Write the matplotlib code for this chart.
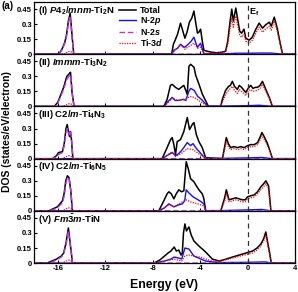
import matplotlib
matplotlib.use("Agg")
import matplotlib.pyplot as plt
import numpy as np

plt.rcParams['font.family'] = ['Liberation Sans', 'DejaVu Sans']
plt.rcParams['font.weight'] = 'bold'
plt.rcParams['mathtext.fontset'] = 'custom'
plt.rcParams['mathtext.rm'] = 'Liberation Sans:bold'
plt.rcParams['mathtext.bf'] = 'Liberation Sans:bold'
plt.rcParams['mathtext.it'] = 'Liberation Sans:italic:bold'

# panel titles
titles = ['(I) $P4_2/mnm$-Ti$_2$N',
          '(II) $Immm$-Ti$_3$N$_2$',
          '(III) C2/$m$-Ti$_4$N$_3$',
          '(IV) C2/$m$-Ti$_6$N$_5$',
          r'(V) $Fm\bar{3}m$-TiN']

xticks = [-16, -12, -8, -4, 0, 4]
yticks = [0, 0.15, 0.3, 0.45]
ytick_labels = ['0', '0.15', '0.3', '0.45']

# ---- (I) Ti2N ----
tot_e1 = [-18, -15.9, -15.6, -15.4, -15.25, -15.1, -14.95, -14.8, -14.65,
          -6.4, -6.25, -6.1, -5.9, -5.65, -5.5, -5.28, -5.1, -4.9, -4.7, -4.52,
          -4.35, -4.22, -4.1, -3.96, -3.8, -3.68, -3.4, -3.0, -2.6, -2.2, -1.85,
          -1.67, -1.47, -1.33, -1.2, -0.99, -0.85, -0.66, -0.5, -0.3, -0.15,
          0.13, 0.4, 0.7, 0.98, 1.26, 1.5, 1.83, 2.0, 2.25, 2.5, 2.75, 2.95, 4]
tot_v1 = [0, 0, 0.06, 0.12, 0.2, 0.33, 0.41, 0.2, 0,
          0, 0.1, 0.14, 0.2, 0.31, 0.25, 0.16, 0.22, 0.32, 0.36, 0.43,
          0.3, 0.21, 0.22, 0.25, 0.12, 0.04, 0.03, 0.02, 0.015, 0.02, 0.03,
          0.13, 0.33, 0.45, 0.33, 0.46, 0.36, 0.23, 0.21, 0.25, 0.16,
          0.14, 0.17, 0.25, 0.31, 0.26, 0.29, 0.32, 0.28, 0.37, 0.26, 0.11, 0, 0]
n2p_e1 = [-18, -6.4, -6.2, -5.9, -5.65, -5.45, -5.28, -5.0, -4.75, -4.52,
          -4.35, -4.22, -3.96, -3.8, -3.68, -2.0, -1.0, 0.0, 1.0, 2.0, 2.9, 4]
n2p_v1 = [0, 0, 0.04, 0.06, 0.10, 0.08, 0.07, 0.10, 0.13, 0.17,
          0.11, 0.07, 0.11, 0.05, 0.005, 0.005, 0.01, 0.01, 0.012, 0.012, 0, 0]
n2s_e1 = [-18, -15.9, -15.6, -15.4, -15.25, -15.1, -14.95, -14.8, -14.65, 4]
n2s_v1 = [0, 0, 0.05, 0.11, 0.18, 0.31, 0.38, 0.19, 0, 0]
d_e1 = [-18, -15.5, -15.2, -15.0, -14.8, -14.65,
        -6.4, -6.1, -5.65, -5.28, -4.9, -4.52, -4.22, -3.96, -3.68,
        -3.0, -2.2, -1.85, -1.67, -1.47, -1.33, -1.2, -0.99, -0.85, -0.66,
        -0.5, -0.3, -0.15, 0.13, 0.4, 0.7, 0.98, 1.26, 1.5, 1.83, 2.0, 2.25,
        2.5, 2.75, 2.95, 4]
d_v1 = [0, 0, 0.02, 0.03, 0.02, 0,
        0, 0.04, 0.09, 0.05, 0.08, 0.11, 0.06, 0.07, 0.01,
        0.01, 0.015, 0.025, 0.1, 0.26, 0.36, 0.27, 0.38, 0.3, 0.19,
        0.17, 0.2, 0.13, 0.11, 0.14, 0.21, 0.27, 0.22, 0.25, 0.28, 0.24, 0.33,
        0.23, 0.1, 0, 0]

# ---- (II) Ti3N2 ----
tot_e2 = [-18, -16.3, -16.0, -15.5, -15.23, -15.0, -14.92, -14.8, -14.62,
          -7.06, -6.78, -6.5, -6.35, -6.07, -5.8, -5.6, -5.37, -5.08, -4.94,
          -4.8, -4.51, -4.37, -4.09, -3.8, -3.46, -3.3,
          -2.27, -2.1, -1.85, -1.6, -1.45, -1.28, -1.1, -0.86, -0.7, -0.5,
          -0.3, -0.15, 0.05, 0.27, 0.45, 0.65, 0.83, 1.05, 1.26, 1.5, 1.83, 2.1, 4]
tot_v2 = [0, 0, 0.04, 0.19, 0.3, 0.33, 0.34, 0.15, 0,
          0, 0.07, 0.21, 0.22, 0.19, 0.17, 0.19, 0.21, 0.12, 0.40,
          0.42, 0.39, 0.31, 0.22, 0.12, 0.04, 0,
          0, 0.08, 0.16, 0.2, 0.21, 0.25, 0.2, 0.17, 0.21, 0.19,
          0.16, 0.14, 0.18, 0.21, 0.18, 0.19, 0.19, 0.21, 0.25, 0.18, 0.09, 0, 0]
n2p_e2 = [-18, -7.06, -6.7, -6.35, -6.1, -5.8, -5.45, -5.2, -4.95, -4.8,
          -4.5, -4.2, -3.88, -3.5, -3.3, -2.2, 0.0, 1.0, 2.1, 4]
n2p_v2 = [0, 0, 0.05, 0.09, 0.06, 0.06, 0.07, 0.06, 0.15, 0.18,
          0.16, 0.1, 0.07, 0.02, 0.003, 0.003, 0.008, 0.012, 0, 0]
n2s_e2 = [-18, -16.3, -16.0, -15.5, -15.23, -15.05, -14.95, -14.85, -14.75, -14.62, 4]
n2s_v2 = [0, 0, 0.03, 0.17, 0.27, 0.3, 0.32, 0.25, 0.1, 0, 0]
d_e2 = [-18, -15.5, -15.2, -15.0, -14.8, -14.65,
        -7.0, -6.35, -5.9, -5.4, -4.8, -4.5, -4.0, -3.3,
        -2.27, -2.1, -1.85, -1.6, -1.28, -1.1, -0.86, -0.7, -0.5, -0.15,
        0.05, 0.27, 0.45, 0.83, 1.05, 1.26, 1.5, 1.83, 2.1, 4]
d_v2 = [0, 0, 0.02, 0.03, 0.02, 0,
        0, 0.08, 0.06, 0.07, 0.1, 0.09, 0.05, 0,
        0, 0.05, 0.12, 0.16, 0.2, 0.16, 0.13, 0.17, 0.15, 0.11,
        0.15, 0.17, 0.15, 0.16, 0.18, 0.22, 0.16, 0.08, 0, 0]

# ---- (III) Ti4N3 ----
tot_e3 = [-18, -16.45, -16.1, -15.94, -15.6, -15.45, -15.3, -15.2, -15.1,
          -15.0, -14.93, -14.85, -14.72,
          -7.2, -6.78, -6.49, -6.35, -6.21, -6.07, -5.93, -5.65, -5.37, -5.08,
          -4.89, -4.66, -4.52, -4.32, -4.1, -3.82, -3.53,
          -2.12, -1.93, -1.79, -1.62, -1.42, -1.14, -0.85, -0.57, -0.29, 0.0,
          0.27, 0.56, 0.84, 1.04, 1.21, 1.4, 1.68, 1.88, 2.1, 4]
tot_v3 = [0, 0, 0.03, 0.06, 0.07, 0.15, 0.3, 0.34, 0.27,
          0.22, 0.27, 0.2, 0,
          0, 0.11, 0.19, 0.21, 0.14, 0.04, 0.17, 0.19, 0.27, 0.41,
          0.29, 0.34, 0.36, 0.24, 0.17, 0.11, 0.01,
          0, 0.12, 0.21, 0.15, 0.11, 0.12, 0.11, 0.12, 0.11, 0.13,
          0.14, 0.14, 0.16, 0.21, 0.26, 0.22, 0.15, 0.08, 0, 0]
n2p_e3 = [-18, -7.2, -6.8, -6.35, -6.07, -5.8, -5.5, -5.2, -5.08, -4.8,
          -4.6, -4.3, -4.0, -3.7, -3.5, -2.1, 0.0, 1.2, 2.1, 4]
n2p_v3 = [0, 0, 0.03, 0.06, 0.03, 0.05, 0.09, 0.14, 0.16, 0.13,
          0.15, 0.1, 0.06, 0.02, 0.003, 0.003, 0.008, 0.012, 0, 0]
n2s_e3 = [-18, -16.45, -16.1, -15.94, -15.6, -15.45, -15.3, -15.2, -15.1,
          -15.0, -14.93, -14.85, -14.72, 4]
n2s_v3 = [0, 0, 0.02, 0.04, 0.06, 0.13, 0.26, 0.3, 0.26,
          0.24, 0.28, 0.22, 0, 0]
d_e3 = [-18, -15.6, -15.3, -15.05, -14.85, -14.7,
        -7.2, -6.35, -6.07, -5.5, -5.08, -4.6, -4.0, -3.5,
        -2.12, -1.93, -1.79, -1.62, -1.42, -1.14, -0.85, -0.57, -0.29, 0.0,
        0.27, 0.56, 0.84, 1.04, 1.21, 1.4, 1.68, 1.88, 2.1, 4]
d_v3 = [0, 0, 0.02, 0.03, 0.02, 0,
        0, 0.07, 0.02, 0.06, 0.1, 0.09, 0.04, 0,
        0, 0.09, 0.17, 0.12, 0.09, 0.1, 0.09, 0.1, 0.09, 0.11,
        0.12, 0.12, 0.14, 0.18, 0.23, 0.19, 0.13, 0.07, 0, 0]

# ---- (IV) Ti6N5 ----
tot_e4 = [-18, -16.75, -16.4, -16.03, -15.6, -15.45, -15.32, -15.18, -15.04,
          -14.9, -14.76,
          -7.48, -7.06, -6.78, -6.63, -6.43, -6.21, -6.01, -5.79, -5.56, -5.37,
          -5.17, -5.0, -4.8, -4.52, -4.32, -4.1, -3.82, -3.68, -3.53,
          -2.26, -1.93, -1.79, -1.56, -1.28, -0.99, -0.71, -0.43, -0.2, 0.0,
          0.27, 0.56, 0.84, 1.12, 1.35, 1.54, 1.77, 1.97, 4]
tot_v4 = [0, 0, 0.02, 0.04, 0.1, 0.18, 0.3, 0.35, 0.33,
          0.2, 0,
          0, 0.1, 0.17, 0.19, 0.17, 0.12, 0.17, 0.21, 0.19, 0.2,
          0.49, 0.42, 0.32, 0.29, 0.25, 0.21, 0.17, 0.12, 0,
          0, 0.13, 0.21, 0.11, 0.12, 0.13, 0.12, 0.11, 0.11, 0.14,
          0.15, 0.16, 0.19, 0.24, 0.27, 0.3, 0.25, 0, 0]
n2p_e4 = [-18, -7.48, -7.0, -6.63, -6.2, -5.8, -5.5, -5.3, -5.17, -4.95,
          -4.6, -4.3, -3.9, -3.68, -3.53, -2.2, 0.0, 1.2, 2.0, 4]
n2p_v4 = [0, 0, 0.03, 0.07, 0.04, 0.06, 0.07, 0.1, 0.21, 0.18,
          0.14, 0.12, 0.09, 0.07, 0.003, 0.003, 0.01, 0.014, 0, 0]
n2s_e4 = [-18, -16.75, -16.4, -16.03, -15.6, -15.45, -15.32, -15.18, -15.04,
          -14.9, -14.76, 4]
n2s_v4 = [0, 0, 0.01, 0.03, 0.08, 0.15, 0.27, 0.33, 0.32,
          0.21, 0, 0]
d_e4 = [-18, -15.6, -15.3, -15.05, -14.85, -14.7,
        -7.48, -6.63, -6.2, -5.79, -5.17, -4.8, -4.2, -3.68, -3.53,
        -2.26, -1.93, -1.79, -1.56, -1.28, -0.99, -0.71, -0.43, -0.2, 0.0,
        0.27, 0.56, 0.84, 1.12, 1.35, 1.54, 1.77, 1.97, 4]
d_v4 = [0, 0, 0.02, 0.03, 0.02, 0,
        0, 0.06, 0.04, 0.07, 0.11, 0.09, 0.07, 0.05, 0,
        0, 0.1, 0.17, 0.09, 0.1, 0.11, 0.1, 0.09, 0.09, 0.12,
        0.13, 0.14, 0.17, 0.21, 0.24, 0.27, 0.22, 0, 0]

# ---- (V) TiN ----
tot_e5 = [-18, -16.9, -16.5, -16.1, -15.7, -15.5, -15.3, -15.1, -14.95, -14.75,
          -7.9, -7.4, -7.0, -6.7, -6.46, -6.18, -6.0, -5.8, -5.6, -5.5, -5.4,
          -5.28, -5.15, -4.94, -4.75, -4.52, -4.1, -3.53, -2.97, -2.4, -1.8,
          -1.28, -0.43, 0.42, 0.8, 1.12, 1.35, 1.54, 1.7, 1.85, 2.0, 4]
tot_v5 = [0, 0, 0.02, 0.04, 0.07, 0.1, 0.2, 0.35, 0.2, 0,
          0, 0.03, 0.07, 0.1, 0.12, 0.16, 0.12, 0.13, 0.08, 0.1, 0.3,
          0.39, 0.32, 0.36, 0.28, 0.22, 0.17, 0.11, 0.04, 0.02, 0.04,
          0.06, 0.09, 0.12, 0.15, 0.19, 0.24, 0.31, 0.2, 0.11, 0, 0]
n2p_e5 = [-18, -7.9, -7.0, -6.46, -6.18, -5.8, -5.55, -5.4, -5.28, -4.94,
          -4.52, -3.53, -2.5, 0.0, 1.5, 2.0, 4]
n2p_v5 = [0, 0, 0.02, 0.04, 0.06, 0.05, 0.04, 0.1, 0.15, 0.14,
          0.07, 0.02, 0.005, 0.008, 0.012, 0, 0]
n2s_e5 = [-18, -16.9, -16.5, -16.1, -15.7, -15.5, -15.3, -15.1, -14.95, -14.75, 4]
n2s_v5 = [0, 0, 0.01, 0.03, 0.06, 0.09, 0.18, 0.32, 0.19, 0, 0]
d_e5 = [-18, -15.6, -15.3, -15.05, -14.85, -14.7,
        -7.9, -6.18, -5.55, -5.28, -4.94, -4.0, -3.0, -2.4, -1.28, -0.43,
        0.42, 0.8, 1.12, 1.35, 1.54, 1.7, 1.85, 2.0, 4]
d_v5 = [0, 0, 0.02, 0.03, 0.02, 0,
        0, 0.04, 0.02, 0.07, 0.08, 0.06, 0.02, 0.015, 0.05, 0.075,
        0.1, 0.13, 0.17, 0.22, 0.28, 0.18, 0.09, 0, 0]

panels = [
    (tot_e1, tot_v1, n2p_e1, n2p_v1, n2s_e1, n2s_v1, d_e1, d_v1),
    (tot_e2, tot_v2, n2p_e2, n2p_v2, n2s_e2, n2s_v2, d_e2, d_v2),
    (tot_e3, tot_v3, n2p_e3, n2p_v3, n2s_e3, n2s_v3, d_e3, d_v3),
    (tot_e4, tot_v4, n2p_e4, n2p_v4, n2s_e4, n2s_v4, d_e4, d_v4),
    (tot_e5, tot_v5, n2p_e5, n2p_v5, n2s_e5, n2s_v5, d_e5, d_v5),
]

fig, axes = plt.subplots(5, 1, sharex=True, figsize=(2.98, 2.92), dpi=100,
                         gridspec_kw={'hspace': 0})
fig.subplots_adjust(left=0.114, right=0.99, top=0.993, bottom=0.099)

for i, ax in enumerate(axes):
    te, tv, pe, pv, se, sv, de, dv = panels[i]
    ax.plot(te, tv, color='black', lw=1.1, label='Total')
    ax.plot(pe, pv, color='#1010ff', lw=1.0, label='N-2$p$')
    ax.plot(se, sv, color='#c030f0', lw=1.0, ls=(0, (4, 2)), label='N-2$s$')
    ax.plot(de, dv, color='#ff0000', lw=0.9, ls=(0, (1, 1)), label='Ti-3$d$')
    ax.axvline(0, color='#333333', lw=0.9, ls=(0, (4, 3)))
    ax.set_xlim(-18, 4)
    ax.set_ylim(0, 0.52)
    ax.set_yticks(yticks)
    ax.set_yticklabels(ytick_labels)
    ax.set_xticks(xticks)
    ax.tick_params(direction='in', length=2.5, width=0.8, labelsize=5.5, pad=1.5)
    for sp in ax.spines.values():
        sp.set_linewidth(0.9)
    ax.text(0.015, 0.97, titles[i], transform=ax.transAxes, va='top', ha='left',
            fontsize=6.8)

axes[-1].set_xticklabels([str(t) for t in xticks])
axes[0].legend(loc='upper left', bbox_to_anchor=(0.30, 1.05), frameon=False,
               fontsize=6.4, handlelength=2.0, handletextpad=0.4,
               labelspacing=0.02, borderpad=0.2)
axes[0].text(0.15, 0.42, 'E$_\\mathrm{f}$', fontsize=6.5, ha='left', va='center')

fig.text(0.005, 0.995, '(a)', fontsize=7, ha='left', va='top')
fig.text(0.025, 0.55, 'DOS (states/eV/electron)', rotation=90, fontsize=7.5,
         ha='center', va='center')
fig.text(0.552, 0.003, 'Energy (eV)', fontsize=8.8, ha='center', va='bottom')

fig.savefig('out.png', dpi=100)
